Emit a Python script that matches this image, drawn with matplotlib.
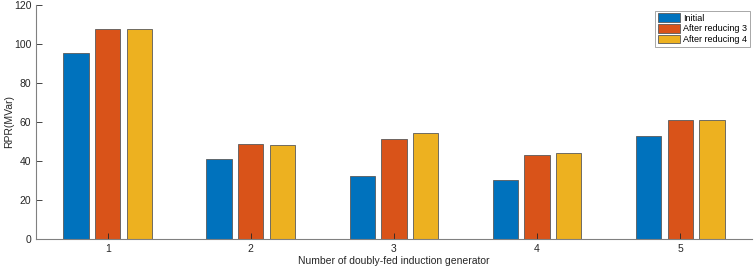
import numpy as np
import matplotlib.pyplot as plt

plt.rcParams['font.family'] = ['Liberation Sans', 'DejaVu Sans']

generators = [1, 2, 3, 4, 5]
initial = [95.5, 41.0, 32.5, 30.2, 52.8]
after_3 = [108.0, 48.8, 51.2, 43.0, 61.0]
after_4 = [108.0, 48.0, 54.2, 44.2, 61.0]
series_names = ['Initial', 'After reducing 3', 'After reducing 4']
colors = ['#0072BD', '#D95319', '#EDB120']

fig = plt.figure(figsize=(7.54, 2.69), dpi=100)
ax = fig.add_axes([0.048, 0.1125, 0.949, 0.868])

x = np.array(generators)
offsets = [-0.222, 0.0, 0.222]
for vals, name, c, off in zip([initial, after_3, after_4], series_names, colors, offsets):
    ax.bar(x + off, vals, width=0.176, color=c, edgecolor='#5a5a5a',
           linewidth=0.6, label=name)

ax.set_xlim(0.5, 5.5)
ax.set_ylim(0, 120)
ax.set_xticks(generators)
ax.set_yticks(range(0, 121, 20))
ax.tick_params(direction='in', length=4, width=0.6, colors='#262626', labelsize=7.5)
for s in ['top', 'right']:
    ax.spines[s].set_visible(False)
for s in ['left', 'bottom']:
    ax.spines[s].set_color('#808080')
    ax.spines[s].set_linewidth(0.8)

ax.set_xlabel('Number of doubly-fed induction generator', fontsize=7.5, color='#262626', labelpad=2)
ax.set_ylabel('RPR(MVar)', fontsize=7.5, color='#262626', va='center')
ax.yaxis.set_label_coords(-0.038, 0.5)

leg = ax.legend(loc='upper right', bbox_to_anchor=(0.9995, 0.985), fontsize=6.5,
                frameon=True, fancybox=False, edgecolor='#808080',
                handlelength=2.5, handleheight=1.1, handletextpad=0.3,
                borderpad=0.3, labelspacing=0.15, borderaxespad=0.2)
leg.get_frame().set_linewidth(0.6)

fig.savefig('out.png', dpi=100)
